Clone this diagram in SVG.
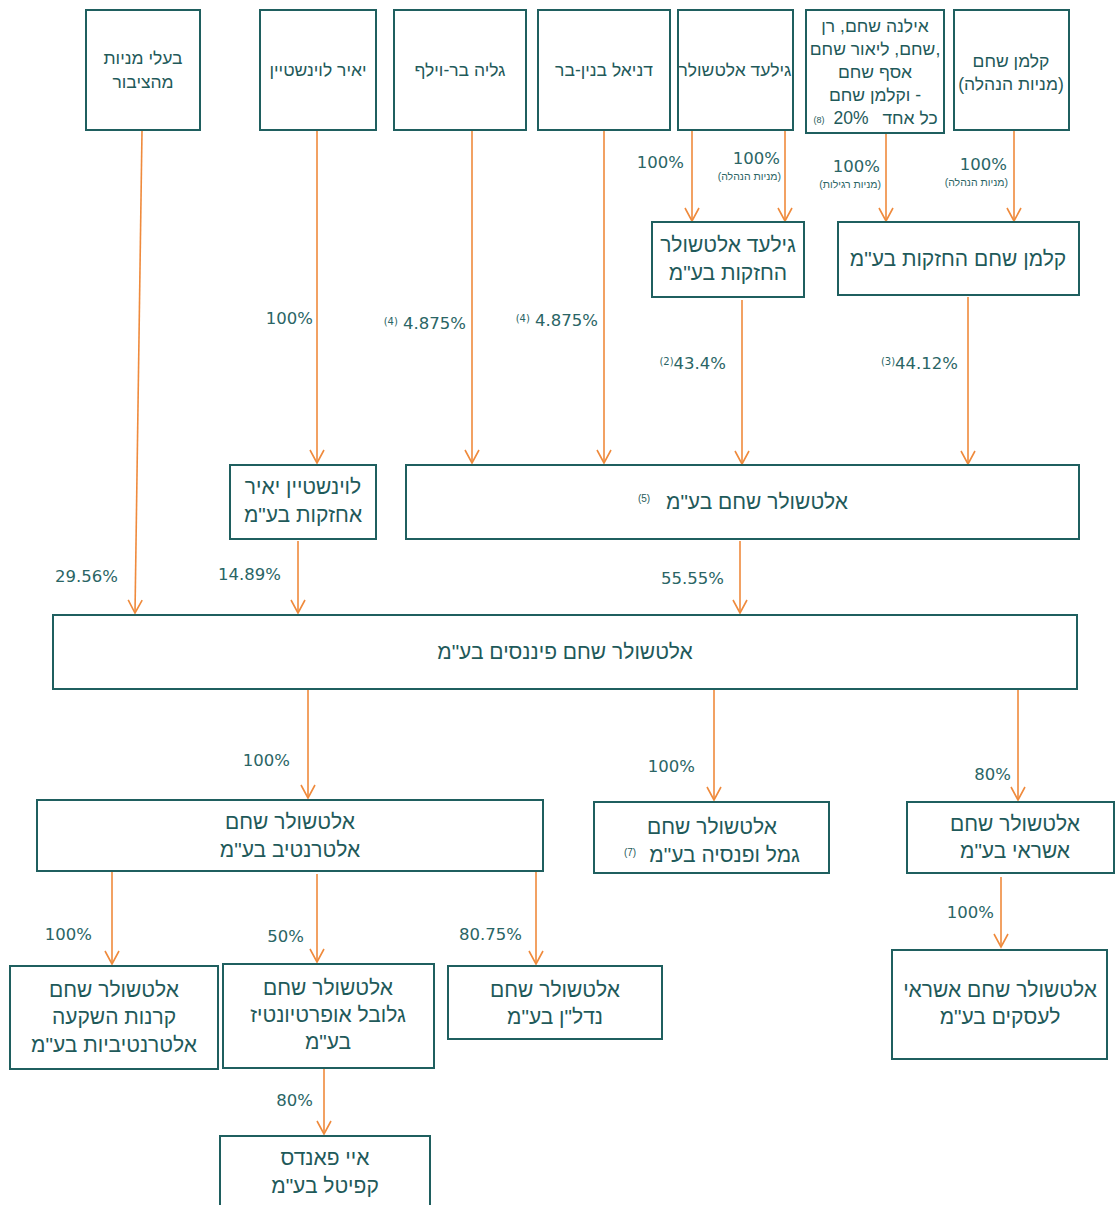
<svg xmlns="http://www.w3.org/2000/svg" width="1115" height="1205" viewBox="0 0 1115 1205">
<style>
.box{fill:#fff;stroke:#1f5f5f;stroke-width:2}
.t{font-family:"Liberation Sans","DejaVu Sans",sans-serif;fill:#1f5a5a;text-anchor:middle}
.tb{font-size:21px}
.ts{font-size:17.5px}
.lab{font-family:"DejaVu Sans","Liberation Sans",sans-serif;fill:#2a6565;font-size:16.5px;text-anchor:end}
.sup{font-size:10px}
.tiny{font-family:"Liberation Sans","DejaVu Sans",sans-serif;fill:#2a6565;font-size:10.5px;text-anchor:end}
.c line{stroke:#ef8a3c;stroke-width:1.6;marker-end:url(#ah)}
</style>
<defs>
<marker id="ah" markerUnits="userSpaceOnUse" markerWidth="20" markerHeight="20" refX="0" refY="0" viewBox="-14 -10 16 20" orient="auto">
<path d="M-13,-7 L0,0 L-13,7" fill="none" stroke="#ef8a3c" stroke-width="1.6"/>
</marker>
</defs>
<rect width="1115" height="1205" fill="#fff"/>

<g id="connectors" class="c">
<line x1="142" y1="131" x2="135" y2="613"/>
<line x1="317" y1="131" x2="317" y2="463"/>
<line x1="472" y1="131" x2="472" y2="463"/>
<line x1="604" y1="131" x2="604" y2="463"/>
<line x1="692" y1="131" x2="692" y2="221"/>
<line x1="785" y1="131" x2="785" y2="221"/>
<line x1="886" y1="134" x2="886" y2="221"/>
<line x1="1014" y1="131" x2="1014" y2="221"/>
<line x1="742" y1="300" x2="742" y2="464"/>
<line x1="968" y1="297" x2="968" y2="464"/>
<line x1="298" y1="541" x2="298" y2="613"/>
<line x1="740" y1="541" x2="740" y2="613"/>
<line x1="308" y1="690" x2="308" y2="798"/>
<line x1="714" y1="690" x2="714" y2="800"/>
<line x1="1018" y1="690" x2="1018" y2="800"/>
<line x1="1001" y1="877" x2="1001" y2="947"/>
<line x1="112" y1="872" x2="112" y2="964"/>
<line x1="317" y1="874" x2="317" y2="962"/>
<line x1="536" y1="872" x2="536" y2="964"/>
<line x1="324" y1="1069" x2="324" y2="1134"/>
</g>

<g id="labels">
<text class="lab" x="118" y="582">29.56%</text>
<text class="lab" x="313" y="324">100%</text>
<text class="lab" x="466" y="329"><tspan class="sup" dy="-4">(4)</tspan><tspan dy="4"> 4.875%</tspan></text>
<text class="lab" x="598" y="326"><tspan class="sup" dy="-4">(4)</tspan><tspan dy="4"> 4.875%</tspan></text>
<text class="lab" x="684" y="168">100%</text>
<text class="lab" x="780" y="164">100%</text>
<text class="tiny" x="781" y="180">(מניות הנהלה)</text>
<text class="lab" x="880" y="172">100%</text>
<text class="tiny" x="881" y="188">(מניות רגילות)</text>
<text class="lab" x="1007" y="170">100%</text>
<text class="tiny" x="1008" y="186">(מניות הנהלה)</text>
<text class="lab" x="726" y="369"><tspan class="sup" dy="-4">(2)</tspan><tspan dy="4">43.4%</tspan></text>
<text class="lab" x="958" y="369"><tspan class="sup" dy="-4">(3)</tspan><tspan dy="4">44.12%</tspan></text>
<text class="lab" x="281" y="580">14.89%</text>
<text class="lab" x="724" y="584">55.55%</text>
<text class="lab" x="290" y="766">100%</text>
<text class="lab" x="695" y="772">100%</text>
<text class="lab" x="1011" y="780">80%</text>
<text class="lab" x="994" y="918">100%</text>
<text class="lab" x="92" y="940">100%</text>
<text class="lab" x="304" y="942">50%</text>
<text class="lab" x="522" y="940">80.75%</text>
<text class="lab" x="313" y="1106">80%</text>
</g>

<g id="n-public"><rect class="box" x="86" y="10" width="114" height="120"/>
<text class="t ts" x="143" y="64">בעלי מניות</text><text class="t ts" x="143" y="88">מהציבור</text></g>

<g id="n-yair"><rect class="box" x="260" y="10" width="116" height="120"/>
<text class="t ts" x="318" y="76">יאיר לוינשטיין</text></g>

<g id="n-galia"><rect class="box" x="394" y="10" width="132" height="120"/>
<text class="t ts" x="460" y="76">גליה בר-וילף</text></g>

<g id="n-daniel"><rect class="box" x="538" y="10" width="132" height="120"/>
<text class="t ts" x="604" y="76">דניאל בנין-בר</text></g>

<g id="n-gilad"><rect class="box" x="678" y="10" width="115" height="120"/>
<text class="t ts" x="735" y="76">גילעד אלטשולר</text></g>

<g id="n-ilana"><rect class="box" x="806" y="10" width="138" height="123"/>
<text class="t ts" x="875" y="32">אילנה שחם, רן</text>
<text class="t ts" x="875" y="55">שחם, ליאור שחם,</text>
<text class="t ts" x="875" y="78">אסף שחם</text>
<text class="t ts" x="875" y="101">וקלמן שחם -</text>
<text class="t ts" x="910" y="124">כל אחד</text>
<text class="t ts" x="851" y="124">20%</text>
<text class="t" font-size="9" x="819" y="123">(8)</text></g>

<g id="n-kalman"><rect class="box" x="954" y="10" width="115" height="120"/>
<text class="t ts" x="1011" y="67">קלמן שחם</text><text class="t ts" x="1011" y="90">(מניות הנהלה)</text></g>

<g id="n-giladh"><rect class="box" x="652" y="222" width="152" height="75"/>
<text class="t tb" x="728" y="252">גילעד אלטשולר</text><text class="t tb" x="728" y="280">החזקות בע"מ</text></g>

<g id="n-kalmanh"><rect class="box" x="838" y="222" width="241" height="73"/>
<text class="t tb" x="958" y="266">קלמן שחם החזקות בע"מ</text></g>

<g id="n-yairh"><rect class="box" x="230" y="465" width="146" height="74"/>
<text class="t tb" x="303" y="494">לוינשטיין יאיר</text><text class="t tb" x="303" y="522">אחזקות בע"מ</text></g>

<g id="n-as"><rect class="box" x="406" y="465" width="673" height="74"/>
<text class="t tb" x="848" y="509" text-anchor="end" style="text-anchor:end">אלטשולר שחם בע"מ</text>
<text class="t" font-size="10" x="644" y="502">(5)</text></g>

<g id="n-fin"><rect class="box" x="53" y="615" width="1024" height="74"/>
<text class="t tb" x="565" y="659">אלטשולר שחם פיננסים בע"מ</text></g>

<g id="n-alt"><rect class="box" x="37" y="800" width="506" height="71"/>
<text class="t tb" x="290" y="829">אלטשולר שחם</text><text class="t tb" x="290" y="857">אלטרנטיב בע"מ</text></g>

<g id="n-gemel"><rect class="box" x="594" y="802" width="235" height="71"/>
<text class="t tb" x="712" y="834">אלטשולר שחם</text><text class="t tb" x="800" y="862" style="text-anchor:end">גמל ופנסיה בע"מ</text>
<text class="t" font-size="10" x="630" y="856">(7)</text></g>

<g id="n-ashrai"><rect class="box" x="907" y="802" width="207" height="71"/>
<text class="t tb" x="1015" y="831">אלטשולר שחם</text><text class="t tb" x="1015" y="858">אשראי בע"מ</text></g>

<g id="n-ashraib"><rect class="box" x="892" y="950" width="215" height="109"/>
<text class="t tb" x="1000" y="997">אלטשולר שחם אשראי</text><text class="t tb" x="1000" y="1024">לעסקים בע"מ</text></g>

<g id="n-karnot"><rect class="box" x="10" y="966" width="208" height="103"/>
<text class="t tb" x="114" y="997">אלטשולר שחם</text><text class="t tb" x="114" y="1024">קרנות השקעה</text><text class="t tb" x="114" y="1052">אלטרנטיביות בע"מ</text></g>

<g id="n-global"><rect class="box" x="223" y="964" width="211" height="104"/>
<text class="t tb" x="328" y="995">אלטשולר שחם</text><text class="t tb" x="328" y="1022">גלובל אופרטיונטיז</text><text class="t tb" x="328" y="1049">בע"מ</text></g>

<g id="n-nadlan"><rect class="box" x="448" y="966" width="214" height="73"/>
<text class="t tb" x="555" y="997">אלטשולר שחם</text><text class="t tb" x="555" y="1024">נדל"ן בע"מ</text></g>

<g id="n-ifunds"><rect class="box" x="220" y="1136" width="210" height="75"/>
<text class="t tb" x="325" y="1165">איי פאנדס</text><text class="t tb" x="325" y="1193">קפיטל בע"מ</text></g>
</svg>
